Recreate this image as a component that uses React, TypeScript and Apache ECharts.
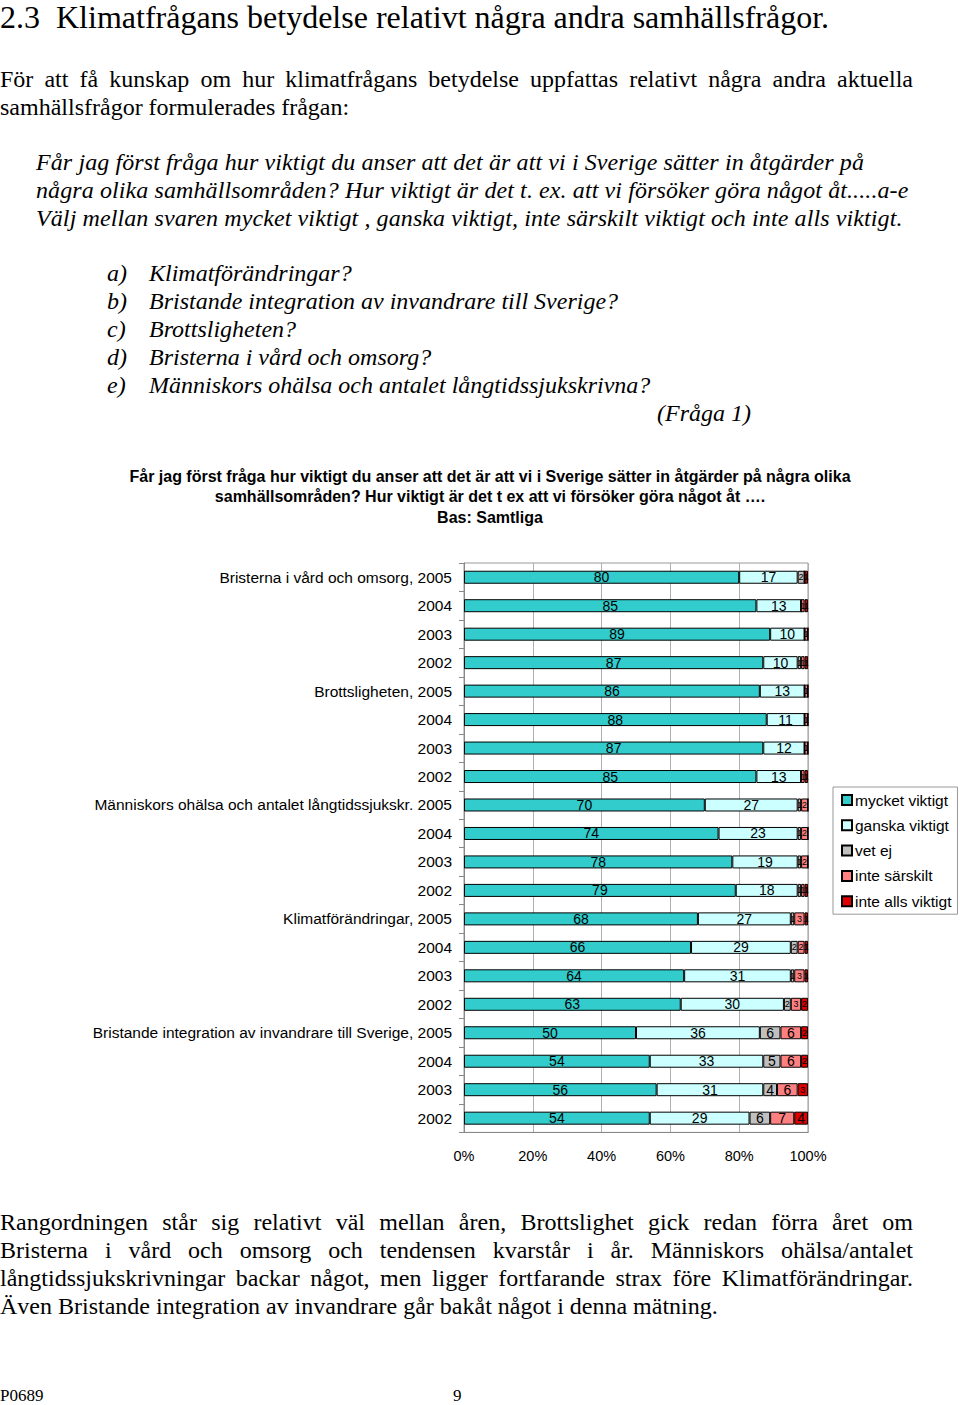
import React, { useEffect, useRef } from "react";
import * as echarts from "echarts";

const rowLabels = [
  "Bristerna i vård och omsorg, 2005", "2004", "2003", "2002",
  "Brottsligheten, 2005", "2004", "2003", "2002",
  "Människors ohälsa och antalet långtidssjukskr. 2005", "2004", "2003", "2002",
  "Klimatförändringar, 2005", "2004", "2003", "2002",
  "Bristande integration av invandrare till Sverige, 2005", "2004", "2003", "2002",
];
const seriesNames = ["mycket viktigt", "ganska viktigt", "vet ej", "inte särskilt", "inte alls viktigt"];
const mycketViktigt = [80, 85, 89, 87, 86, 88, 87, 85, 70, 74, 78, 79, 68, 66, 64, 63, 50, 54, 56, 54];
const ganskaViktigt = [17, 13, 10, 10, 13, 11, 12, 13, 27, 23, 19, 18, 27, 29, 31, 30, 36, 33, 31, 29];
const vetEj = [2, 0, 0, 1, 0, 0, 0, 0, 1, 1, 1, 1, 1, 2, 1, 2, 6, 5, 4, 6];
const inteSarskilt = [0, 1, 1, 1, 1, 1, 1, 1, 2, 2, 2, 1, 3, 2, 3, 3, 6, 6, 6, 7];
const inteAllsViktigt = [1, 1, 0, 1, 0, 0, 0, 1, 0, 0, 0, 1, 1, 1, 1, 2, 2, 2, 3, 4];
const seriesColors = ["#33CCCC", "#CCFFFF", "#C0C0C0", "#FF8080", "#E00000"];
const xTicks = [0, 20, 40, 60, 80, 100];

const serif = '"Liberation Serif", "Times New Roman", serif';
const sans = '"Liberation Sans", Arial, sans-serif';

type Line = { text: string; x: number; y: number; italic?: boolean; justify?: boolean; size?: number; lh?: number };

const textLines: Line[] = [
  { text: "2.3  Klimatfrågans betydelse relativt några andra samhällsfrågor.", x: 0, y: 17, size: 32, lh: 34 },
  { text: "För att få kunskap om hur klimatfrågans betydelse uppfattas relativt några andra aktuella", x: 0, y: 79, justify: true },
  { text: "samhällsfrågor formulerades frågan:", x: 0, y: 107 },
  { text: "Får jag först fråga hur viktigt du anser att det är att vi i Sverige sätter in åtgärder på", x: 36, y: 162, italic: true },
  { text: "några olika samhällsområden? Hur viktigt är det t. ex. att vi försöker göra något åt.....a-e", x: 36, y: 190, italic: true },
  { text: "Välj mellan svaren mycket viktigt , ganska viktigt, inte särskilt viktigt och inte alls viktigt.", x: 36, y: 218, italic: true },
  { text: "a)", x: 107, y: 273, italic: true },
  { text: "Klimatförändringar?", x: 149, y: 273, italic: true },
  { text: "b)", x: 107, y: 301, italic: true },
  { text: "Bristande integration av invandrare till Sverige?", x: 149, y: 301, italic: true },
  { text: "c)", x: 107, y: 329, italic: true },
  { text: "Brottsligheten?", x: 149, y: 329, italic: true },
  { text: "d)", x: 107, y: 357, italic: true },
  { text: "Bristerna i vård och omsorg?", x: 149, y: 357, italic: true },
  { text: "e)", x: 107, y: 385, italic: true },
  { text: "Människors ohälsa och antalet långtidssjukskrivna?", x: 149, y: 385, italic: true },
  { text: "(Fråga 1)", x: 657, y: 413, italic: true },
  { text: "Rangordningen står sig relativt väl mellan åren, Brottslighet gick redan förra året om", x: 0, y: 1222, justify: true },
  { text: "Bristerna i vård och omsorg och tendensen kvarstår i år. Människors ohälsa/antalet", x: 0, y: 1250, justify: true },
  { text: "långtidssjukskrivningar backar något, men ligger fortfarande strax före Klimatförändringar.", x: 0, y: 1278, justify: true },
  { text: "Även Bristande integration av invandrare går bakåt något i denna mätning.", x: 0, y: 1306 },
  { text: "P0689", x: 0, y: 1396, size: 17, lh: 18 },
  { text: "9", x: 453, y: 1396, size: 17, lh: 18 },
];

export default function App() {
  const ref = useRef<HTMLDivElement>(null);
  useEffect(() => {
    if (!ref.current) return;
    const chart = echarts.init(ref.current, undefined, { renderer: "svg" });
    const dataSets = [mycketViktigt, ganskaViktigt, vetEj, inteSarskilt, inteAllsViktigt];
    const idx = rowLabels.map((_, i) => String(i));
    chart.setOption({
      animation: false,
      backgroundColor: "#ffffff",
      title: {
        text: "Får jag först fråga hur viktigt du anser att det är att vi i Sverige sätter in åtgärder på några olika\nsamhällsområden? Hur viktigt är det t ex att vi försöker göra något åt ….\nBas: Samtliga",
        left: 485,
        top: 461,
        textAlign: "center",
        textStyle: { fontFamily: sans, fontSize: 16, fontWeight: "bold", color: "#000", lineHeight: 20.5 },
      },
      legend: {
        orient: "vertical",
        left: 833,
        top: 787,
        width: 118,
        padding: [5, 6, 5, 8],
        itemWidth: 10,
        itemHeight: 10,
        itemGap: 9.3,
        borderColor: "#999",
        borderWidth: 1,
        icon: "rect",
        data: seriesNames,
        textStyle: { fontFamily: sans, fontSize: 15.5, lineHeight: 16, color: "#000", padding: [0, 0, 0, -2] },
      },
      grid: {
        left: 464,
        right: 152,
        top: 563,
        height: 569.4,
        show: true,
        borderColor: "#999",
        borderWidth: 1,
        containLabel: false,
      },
      xAxis: {
        type: "value",
        min: 0,
        max: 100,
        interval: 20,
        axisLine: { show: true, lineStyle: { color: "#888" } },
        axisTick: { show: false },
        axisLabel: {
          formatter: (v: number) => (xTicks.includes(v) ? v + "%" : ""),
          fontFamily: sans,
          fontSize: 14.5,
          color: "#000",
          margin: 16,
        },
        splitLine: { show: true, lineStyle: { color: "#b0b0b0", width: 1 } },
      },
      yAxis: {
        type: "category",
        inverse: true,
        data: idx,
        axisLine: { show: true, lineStyle: { color: "#888" } },
        axisTick: { show: true, length: 5, lineStyle: { color: "#888" } },
        axisLabel: {
          formatter: (v: string) => rowLabels[Number(v)],
          fontFamily: sans,
          fontSize: 15.5,
          color: "#000",
          margin: 12,
          interval: 0,
        },
      },
      series: seriesNames.map((name, s) => ({
        name,
        type: "bar",
        stack: "total",
        barWidth: 13,
        data: dataSets[s].map((v) => ({
          value: v,
          label: v <= 3 ? { fontSize: 9 } : undefined,
        })),
        itemStyle: { color: seriesColors[s], borderColor: "#000", borderWidth: 1 },
        label: {
          show: true,
          position: "inside",
          fontFamily: sans,
          fontSize: 14,
          color: "#000",
          formatter: (p: any) => (p.value > 0 ? String(p.value) : ""),
        },
      })),
    });
    return () => chart.dispose();
  }, []);

  return (
    <div style={{ position: "absolute", left: 0, top: 0, width: 960, height: 1405, background: "#fff", overflow: "hidden" }}>
      <div ref={ref} style={{ position: "absolute", left: 0, top: 0, width: 960, height: 1405 }} />
      {textLines.map((l, i) => {
        const size = l.size ?? 24;
        const lh = l.lh ?? size + 4;
        return (
          <div
            key={i}
            style={{
              position: "absolute",
              left: l.x,
              top: l.y - lh / 2,
              width: l.justify ? 913 - l.x : undefined,
              whiteSpace: "pre",
              fontFamily: serif,
              fontSize: size,
              lineHeight: lh + "px",
              fontStyle: l.italic ? "italic" : "normal",
              letterSpacing: l.italic && l.x === 36 ? "0.1px" : undefined,
              textAlign: l.justify ? "justify" : "left",
              textAlignLast: l.justify ? "justify" : "auto",
              color: "#000",
              pointerEvents: "none",
            }}
          >
            {l.text}
          </div>
        );
      })}
    </div>
  );
}
